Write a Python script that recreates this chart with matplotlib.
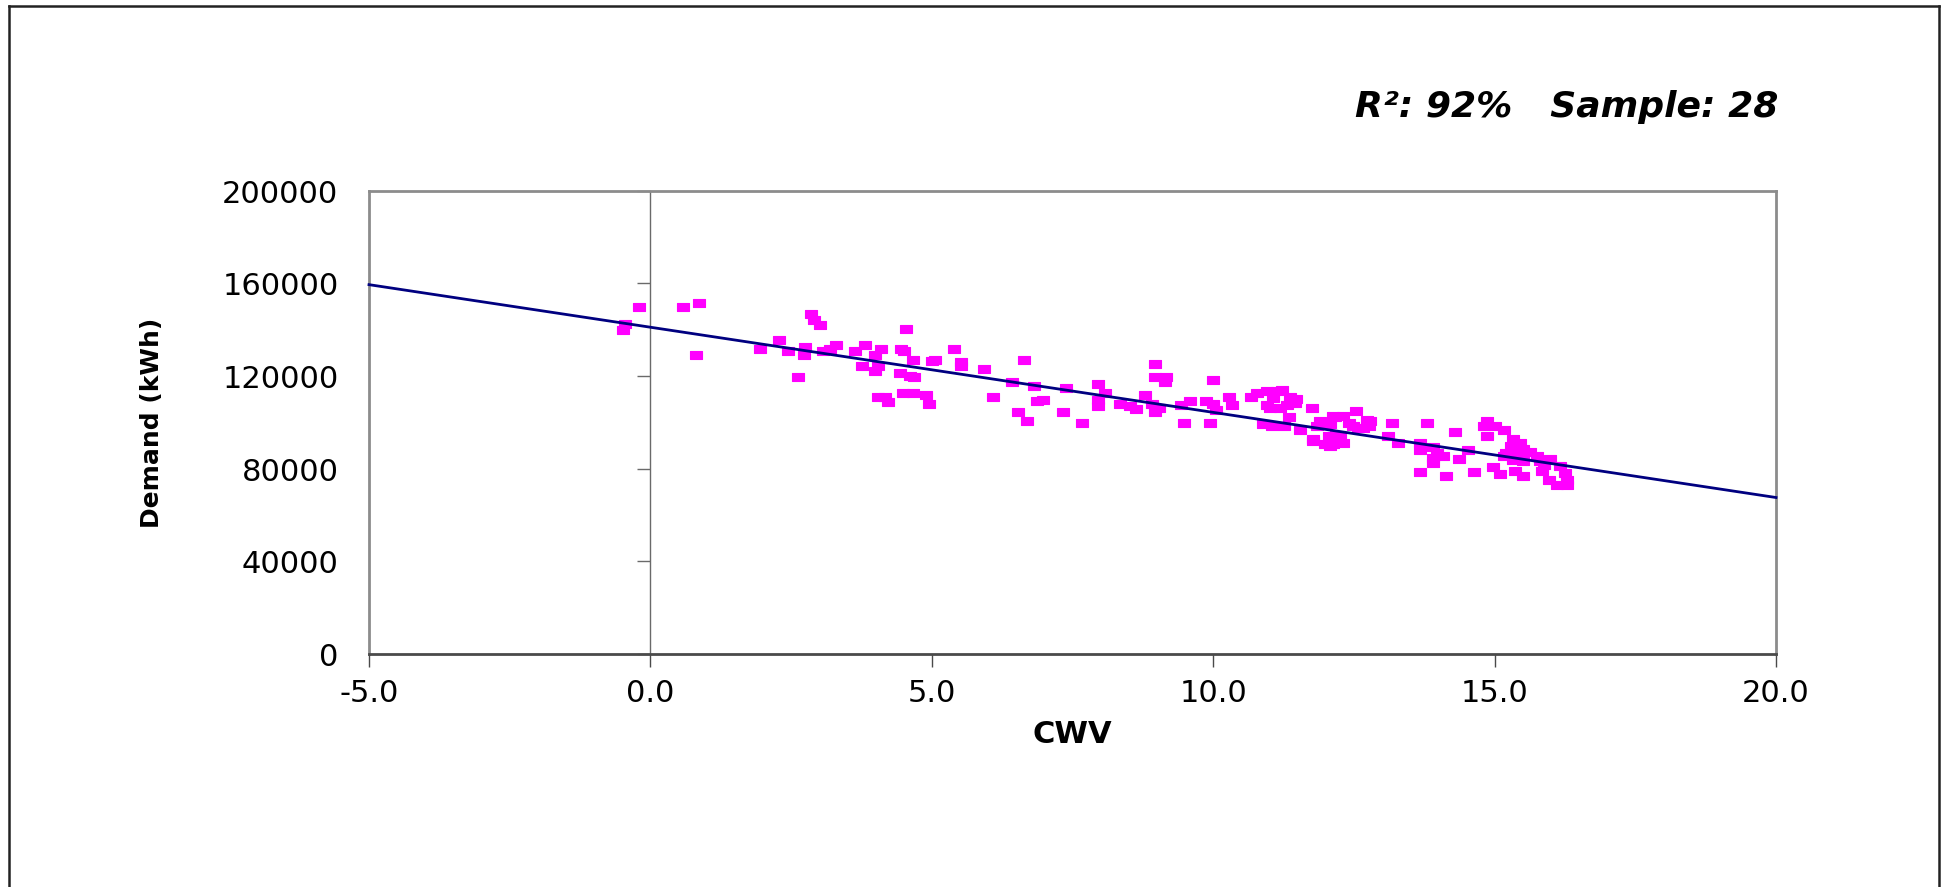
import matplotlib
matplotlib.use("Agg")
import matplotlib.pyplot as plt
from matplotlib.path import Path
from matplotlib.lines import Line2D
import numpy as np

plt.rcParams['font.family'] = ['DejaVu Sans']

# ---- data ----
cwv = [-0.45, -0.48, -0.21, 0.58, 0.87, 0.81, 1.95, 2.29, 2.45, 2.63, 2.75, 2.73, 2.85, 2.91, 3.02,
       3.06, 3.19, 3.30, 3.64, 3.81, 3.76, 3.99, 4.10, 4.04, 3.99, 4.45, 4.51, 4.55, 4.67, 4.43,
       4.61, 4.68, 4.04, 4.17, 4.22, 4.49, 4.67, 4.89, 4.95, 5.00, 5.06, 5.40, 5.51, 5.51, 5.92, 6.08,
       6.42, 6.64, 6.54, 6.70, 6.81, 6.87, 6.98, 7.33, 7.38, 7.67, 7.95, 8.07, 7.95, 7.95, 8.34,
       8.52, 8.63, 8.79, 8.97, 8.97, 9.17, 9.14, 8.91, 9.03, 8.97, 9.43, 9.59, 9.48, 9.94, 9.99,
       9.88, 10.00, 10.05, 10.28, 10.34, 10.68, 10.78, 11.13, 11.07, 10.95, 11.19, 11.36, 11.47,
       10.89, 11.04, 11.25, 11.35, 11.54, 11.75, 11.93, 12.08, 12.16, 12.31, 12.54, 12.73, 12.77,
       12.49, 11.78, 11.99, 12.13, 12.19, 12.31, 12.58,
       10.95, 11.22, 11.45, 11.01, 11.31, 11.90, 11.84, 12.05, 12.08, 12.25, 11.78, 12.41, 12.67,
       12.79, 12.13,
       13.11, 13.17, 13.28, 13.67, 13.79, 13.67, 13.90, 13.97, 13.91, 14.08, 13.91, 13.67, 14.13,
       14.30, 14.36, 14.52, 14.64, 14.87, 14.81, 15.00, 15.16, 14.87, 15.33, 15.45, 15.30, 15.51,
       15.63, 15.20, 15.16, 15.33, 15.51, 15.75, 15.81, 15.98, 15.87, 16.16, 14.98, 15.10, 15.36,
       15.50, 15.84, 16.25, 15.96, 16.10, 16.28, 16.28, 15.42]
demand = [142250, 139660, 149770, 149770, 151500, 128870, 131620, 135350, 130600, 119370, 132480,
          128870, 146730, 144000, 142120, 130750, 131460, 133480, 130750, 133480, 124110, 128870,
          131620, 124110, 122250, 131620, 130600, 140260, 127000, 121250, 120090, 119370, 110890,
          110890, 108860, 112620, 112620, 111750, 108000, 126270, 127000, 131620, 126140, 124110,
          123110, 110890,
          117500, 126860, 104240, 100350, 115640, 108990, 109720, 104240, 114600, 99480, 116630,
          112740, 109720, 107130, 108000, 106830, 105830, 111750, 125140, 119530, 119530, 117370,
          108000, 106130, 104240, 107260, 108990, 99480, 99480, 118360, 108990, 107860, 105400,
          110890, 107260, 110890, 112740, 113480, 110460, 107430, 106130, 110890, 109860, 99050,
          98190, 98190, 102080, 96760, 106130, 99910, 99050, 102080, 102510, 104970, 101080, 98490,
          98190, 92740, 90580, 90580, 94310, 91010, 97490,
          113300, 114040, 108300, 106130, 107560, 100350, 98190, 93880, 89560, 93880, 91710, 99660,
          97490, 100350, 102510,
          93880, 99490, 90850, 91010, 99490, 88130, 89280, 86700, 84540, 85230, 82380, 78620, 76760,
          95770, 84240, 88130, 78620, 100510, 98490, 98490, 96460, 93880, 92880, 91010, 89560, 88420,
          86960, 86700, 85230, 83800, 83070, 85230, 83070, 84100, 81640, 81210, 80650, 77750, 78750,
          76590, 78750, 78060, 75160, 73000, 73000, 75160, 85960]

trend_x = [-5.0, 20.0]
trend_y = [159400, 67500]

x_ticks = [-5, 0, 5, 10, 15, 20]
x_tick_labels = ["-5.0", "0.0", "5.0", "10.0", "15.0", "20.0"]
y_ticks = [0, 40000, 80000, 120000, 160000, 200000]
y_tick_labels = ["0", "40000", "80000", "120000", "160000", "200000"]

title_text = "R²: 92%   Sample: 28"
x_label = "CWV"
y_label = "Demand (kWh)"

# ---- figure ----
W, H = 1946, 887
fig = plt.figure(figsize=(W / 100, (H + 0.5) / 100), dpi=100)
fig.patch.set_facecolor("white")

left, right, top, bottom = 369, 1776, 191, 654
ax = fig.add_axes([left / W, 1 - bottom / H, (right - left) / W, (bottom - top) / H])
ax.set_xlim(x_ticks[0], x_ticks[-1])
ax.set_ylim(y_ticks[0], y_ticks[-1])

# wide rectangular marker
rect = Path([(-0.5, -0.33), (0.5, -0.33), (0.5, 0.33), (-0.5, 0.33), (-0.5, -0.33)],
            [Path.MOVETO, Path.LINETO, Path.LINETO, Path.LINETO, Path.CLOSEPOLY])
ax.plot(cwv, demand, linestyle="none", marker=rect, markersize=8.8,
        color="#FF00FF", markeredgecolor="#FF00FF", markeredgewidth=0.8, zorder=3)
ax.plot(trend_x, trend_y, color="#000080", linewidth=2.0, zorder=4, clip_on=False)

# frame
frame_col = "#8c8c8c"
for s in ("top", "right"):
    ax.spines[s].set_color(frame_col)
    ax.spines[s].set_linewidth(2.0)
ax.spines["bottom"].set_color("#4a4a4a")
ax.spines["bottom"].set_linewidth(2.0)
ax.spines["left"].set_position(("data", 0))
ax.spines["left"].set_color("#6a6a6a")
ax.spines["left"].set_linewidth(1.0)

ax.set_xticks(x_ticks, labels=x_tick_labels)
ax.tick_params(axis="x", direction="out", length=9, width=1.0, color="#4a4a4a",
               labelsize=22, pad=9)
ax.set_yticks(y_ticks)
ax.tick_params(axis="y", direction="out", length=9.5, width=1.0, color="#6a6a6a",
               labelleft=False)

sec = ax.secondary_yaxis("left")
sec.set_yticks(y_ticks, labels=y_tick_labels)
sec.tick_params(axis="y", length=0, labelsize=22, pad=22)
sec.spines["left"].set_color(frame_col)
sec.spines["left"].set_linewidth(2.0)

ax.set_xlabel(x_label, fontsize=22, fontweight="bold")
ax.xaxis.set_label_coords(0.5, (bottom - 720) / (bottom - top))
ax.set_ylabel(y_label, fontsize=18, fontweight="bold")
ax.yaxis.set_label_coords((164 - left) / (right - left), 0.5)

fig.text(1778 / W, 1 - 107 / H, title_text, fontsize=26, fontweight="bold",
         fontstyle="italic", ha="right", va="center")

# outer border (open at the bottom)
bc = "#222222"
xl, xr, yt = 8.5 / W, 1938.5 / W, 1 - 6.5 / H
for xs, ys in (([xl, xl], [0, yt]), ([xl, xr], [yt, yt]), ([xr, xr], [yt, 0])):
    fig.add_artist(Line2D(xs, ys, transform=fig.transFigure, color=bc, linewidth=1.8))

fig.savefig("out.png", dpi=100, facecolor="white")
